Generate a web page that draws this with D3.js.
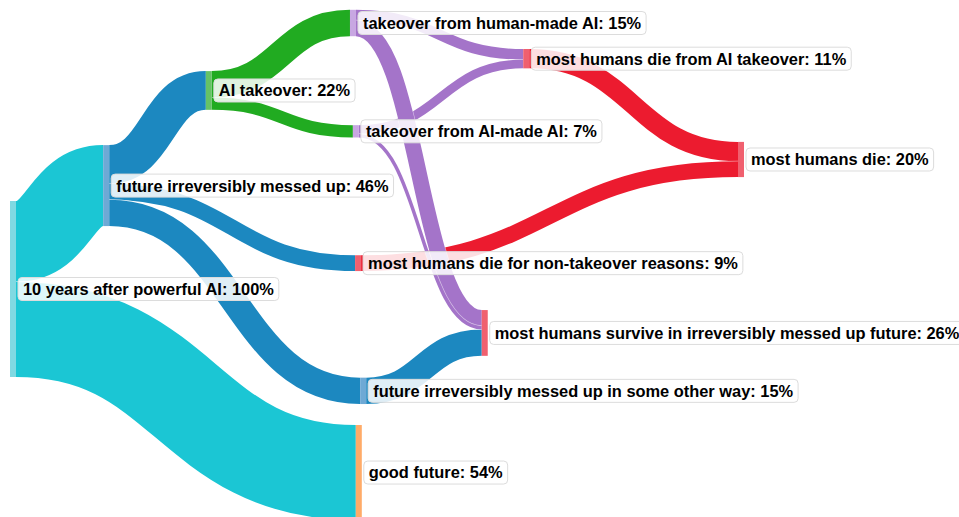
<!DOCTYPE html>
<html>
<head>
<meta charset="utf-8">
<script src="https://cdn.jsdelivr.net/npm/d3@7"></script>
<style>
  body { margin: 0; background: #fff; }
  svg { display: block; }
</style>
</head>
<body>
<div id="chart"></div>
<script>
// nodes
const nodeNames = [
    "10 years after powerful AI",
    "future irreversibly messed up",
    "good future",
    "AI takeover",
    "takeover from human-made AI",
    "takeover from AI-made AI",
    "most humans die for non-takeover reasons",
    "future irreversibly messed up in some other way",
    "most humans die from AI takeover",
    "most humans survive in irreversibly messed up future",
    "most humans die"
];
const nodeValues = [100, 46, 54, 22, 15, 7, 9, 15, 11, 26, 20];

// links (drawn in this order)
const linkSource = [0, 0, 1, 1, 1, 7, 3, 3, 8, 6, 4, 5, 4, 5];
const linkTarget = [1, 2, 3, 6, 7, 9, 4, 5, 10, 10, 8, 8, 9, 9];
const linkValues = [46, 54, 22, 9, 15, 15, 15, 7, 11, 9, 6, 5, 9, 2];

// node arrangement, fractions of the plot area (like plotly node.x / node.y)
const nodeX = [0, 0.128, 0.475, 0.269, 0.467, 0.471, 0.474, 0.481, 0.705, 0.648, 1];
const nodeY = [0.559, 0.359, 0.914, 0.175, 0.0445, 0.254, 0.509, 0.756, 0.1135, 0.644, 0.3085];

// colours
const nodeColors = ["#80d9e2", "#6ea9d5", "#ffab68", "#66c266", "#c8a7e2", "#c8a7e2",
                    "#f0606f", "#6ea9d5", "#f0606f", "#f0606f", "#f0606f"];
const linkColorBySource = {0: "#1bc6d4", 1: "#1c88c0", 7: "#1c88c0", 3: "#21ab21",
                           4: "#a474c9", 5: "#a474c9", 6: "#ec1b2f", 8: "#ec1b2f"};

var width = 959;
var height = 517;
var nodeWidth = 6;

let svg = d3.select('#chart')
    .append('svg')
    .attr('width', width)
    .attr('height', height)

const x = d3.scaleLinear().domain([0, 1]).range([10, 738])
const y = d3.scaleLinear().domain([0, 1]).range([0, height])
const size = d3.scaleLinear().domain([0, 100]).range([0, 176]) // value -> px

const nodes = nodeNames.map(function (name, i) {
    var h = size(nodeValues[i]);
    var cy = y(nodeY[i]);
    return {
        i: i, name: name, value: nodeValues[i],
        x0: x(nodeX[i]), x1: x(nodeX[i]) + nodeWidth,
        y0: cy - h / 2, y1: cy + h / 2, cy: cy,
        out: [], in: []
    };
});

const links = linkValues.map(function (v, i) {
    var l = {source: nodes[linkSource[i]], target: nodes[linkTarget[i]], value: v, width: size(v)};
    l.source.out.push(l);
    l.target.in.push(l);
    return l;
});

// stack links on each node, ordered by the other end's position
nodes.forEach(function (n) {
    var off = n.y0;
    n.out.slice().sort((a, b) => a.target.cy - b.target.cy).forEach(function (l) {
        l.y0 = off + l.width / 2;
        off += l.width;
    });
    off = n.y0;
    n.in.slice().sort((a, b) => a.source.cy - b.source.cy).forEach(function (l) {
        l.y1 = off + l.width / 2;
        off += l.width;
    });
});

const linkPath = d3.linkHorizontal()
    .source(d => [d.source.x1, d.y0])
    .target(d => [d.target.x0, d.y1])

let linkG = svg.append('g').attr('fill', 'none')

linkValues.forEach(function (v, i) {
    var l = links[i];
    // thin white edge so that overlapping bands stay apart
    linkG.append('path')
        .attr('d', linkPath(l))
        .attr('stroke', '#fff')
        .attr('stroke-opacity', 0.6)
        .attr('stroke-width', l.width + 1.2)
    linkG.append('path')
        .attr('d', linkPath(l))
        .attr('stroke', linkColorBySource[linkSource[i]])
        .attr('stroke-width', l.width)
});

svg.append('g')
    .selectAll('rect')
    .data(nodes)
    .enter()
    .append('rect')
    .attr('x', d => d.x0)
    .attr('y', d => d.y0)
    .attr('width', nodeWidth)
    .attr('height', d => d.y1 - d.y0)
    .attr('fill', (d, i) => nodeColors[i])

// labels with white boxes
let labels = svg.append('g')
    .selectAll('g')
    .data(nodes)
    .enter()
    .append('g')
    .attr('transform', d => 'translate(' + (d.x1 + 2) + ',' + d.cy + ')')

let texts = labels.append('text')
    .attr('x', 5)
    .attr('y', 0)
    .attr('dy', '0.36em')
    .attr('font-family', '"Liberation Sans", Arial, Helvetica, sans-serif')
    .attr('font-weight', 'bold')
    .attr('font-size', 16.4)
    .attr('fill', '#000')
    .text(d => d.name + ': ' + d.value + '%')

labels.insert('rect', 'text')
    .attr('x', 0)
    .attr('y', -11.5)
    .attr('height', 23)
    .attr('width', function () {
        return this.parentNode.querySelector('text').getComputedTextLength() + 10;
    })
    .attr('rx', 4)
    .attr('fill', '#fff')
    .attr('fill-opacity', 0.86)
    .attr('stroke', '#dcdcdc')
    .attr('stroke-width', 1)
</script>
</body>
</html>
